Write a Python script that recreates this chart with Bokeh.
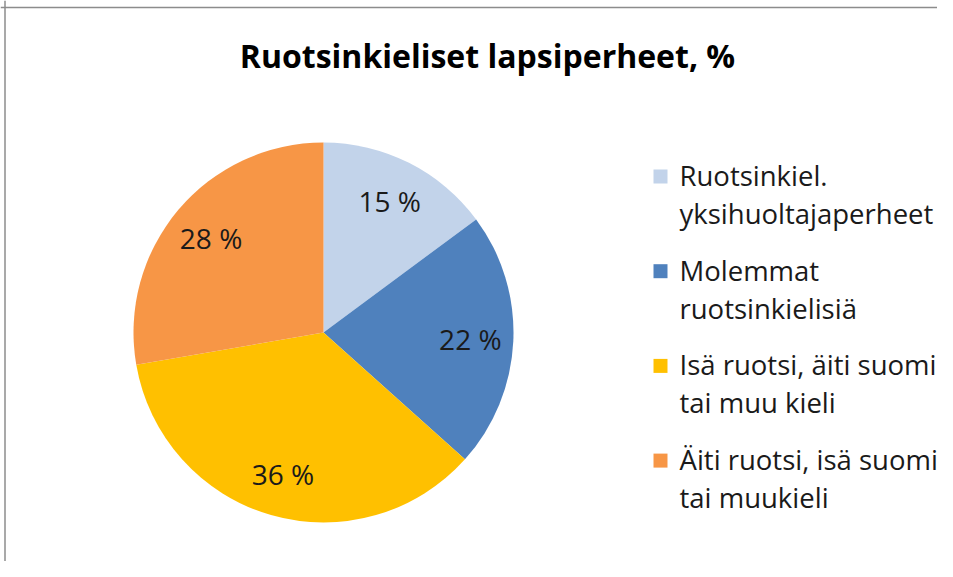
import numpy as np
from bokeh.plotting import figure
from bokeh.models import ColumnDataSource, Span
from bokeh.core.properties import value
from bokeh.embed import file_html
from bokeh.resources import INLINE

title_text = "Ruotsinkieliset lapsiperheet, %"
categories = ["Ruotsinkiel.\nyksihuoltajaperheet",
              "Molemmat\nruotsinkielisiä",
              "Isä ruotsi, äiti suomi\ntai muu kieli",
              "Äiti ruotsi, isä suomi\ntai muukieli"]
values = [15, 22, 36, 28]
colors = ["#C2D3EA", "#4F81BD", "#FFC000", "#F79646"]

W, H = 937, 561
FONT = "Open Sans"

p = figure(width=W, height=H, x_range=(0, W), y_range=(0, H),
           output_backend="svg", toolbar_location=None, min_border=0)
p.axis.visible = False
p.grid.visible = False
p.outline_line_color = None
p.background_fill_color = "white"

# border (top and left visible)
p.add_layout(Span(location=H - 7, dimension="width", line_color="#8C8C8C", line_width=1.5))
p.add_layout(Span(location=4.5, dimension="height", line_color="#8C8C8C", line_width=1.5))

# pie
cx, cy, R = 323, 229, 190
vals = np.array(values, dtype=float)
frac = vals / vals.sum()
cum = np.concatenate([[0], np.cumsum(frac)])
start = np.pi / 2 - 2 * np.pi * cum[:-1]
end = np.pi / 2 - 2 * np.pi * cum[1:]
mid = (start + end) / 2
src = ColumnDataSource(dict(start=start, end=end, color=colors,
                            lx=cx + 147 * np.cos(mid), ly=cy + 147 * np.sin(mid),
                            lab=[f"{v} %" for v in values]))
p.wedge(x=cx, y=cy, radius=R, start_angle="start", end_angle="end", direction="clock",
        fill_color="color", line_color=None, source=src)
p.text(x="lx", y="ly", text="lab", source=src, text_align="center", text_baseline="middle",
       text_font=value(FONT), text_font_size="28px", text_color="#1a1a1a")

# title
p.text(x=[487], y=[H - 55], text=[title_text], text_align="center", text_baseline="middle",
       text_font=value(FONT), text_font_size="32px", text_font_style="bold", text_color="#000000")

# legend
lg_x, lg_y0, lg_step, line_h = 660, H - 176, 94.7, 38
mx, my, tx, ty, tt = [], [], [], [], []
for i, lab in enumerate(categories):
    y0 = lg_y0 - i * lg_step
    mx.append(lg_x)
    my.append(y0)
    for j, line in enumerate(lab.split("\n")):
        tx.append(lg_x + 19)
        ty.append(y0 + 1 - j * line_h)
        tt.append(line)
p.scatter(x=mx, y=my, marker="square", size=14, fill_color=colors, line_color=None)
p.text(x=tx, y=ty, text=tt, text_align="left", text_baseline="middle",
       text_font=value(FONT), text_font_size="27.5px", text_color="#1a1a1a")

open("out.html", "w").write(file_html(p, INLINE))
